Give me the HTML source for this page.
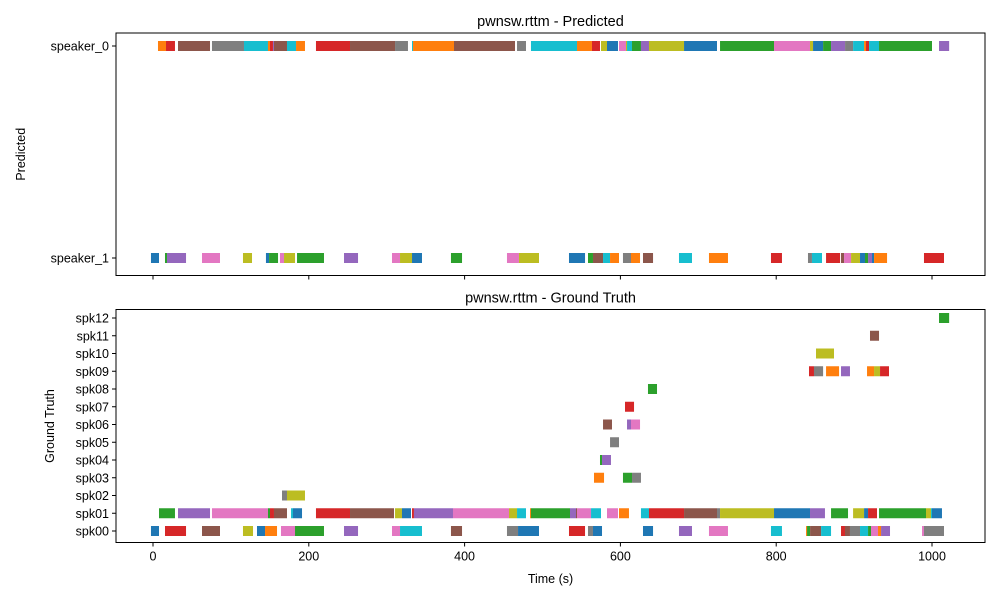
<!DOCTYPE html>
<html><head><meta charset="utf-8"><style>
body{margin:0;background:#fff;}
svg{display:block;font-family:"Liberation Sans","DejaVu Sans",sans-serif;}
</style></head><body>
<svg id="chart" width="1000" height="600"></svg>
<script>
const C={b:'#1f77b4',o:'#ff7f0e',g:'#2ca02c',r:'#d62728',p:'#9467bd',n:'#8c564b',k:'#e377c2',y:'#7f7f7f',l:'#bcbd22',c:'#17becf'};
const predLabels=['speaker_0','speaker_1'];
const predSpeaker0=[[6.4,16.7,'o'],[16.7,28.2,'r'],[32.1,73.2,'n'],[75.7,116.8,'y'],[116.8,147.6,'c'],[147.6,150.2,'o'],[150.2,154,'r'],[154,155.3,'p'],[155.3,172,'n'],[172,183.6,'c'],[183.6,195.1,'o'],[209.2,252.9,'r'],[252.9,310.7,'n'],[310.7,327.3,'y'],[332.5,333.8,'c'],[333.8,386.4,'o'],[386.4,464.7,'n'],[467.3,478.8,'y'],[485.2,544.3,'c'],[544.3,563.5,'o'],[563.5,573.8,'r'],[575.1,582.8,'l'],[582.8,596.9,'b'],[598.2,607.2,'k'],[607.2,608.5,'l'],[608.5,614.9,'c'],[614.9,626.4,'g'],[626.4,636.7,'p'],[636.7,681.7,'l'],[681.7,724,'b'],[727.9,797.2,'g'],[797.2,843.4,'k'],[843.4,847.3,'l'],[847.3,860.2,'b'],[860.2,870.4,'g'],[870.4,888.4,'p'],[888.4,898.7,'y'],[898.7,912.8,'c'],[912.8,915.3,'o'],[915.3,919.2,'r'],[919.2,932,'c'],[932,1000,'g'],[1009,1022,'p']];
const predSpeaker1=[[-2.6,7.7,'b'],[15.4,18,'g'],[18,42.4,'p'],[62.9,86,'k'],[115.5,127.1,'l'],[145,149,'b'],[149,160.5,'g'],[163,168.2,'k'],[168.2,182.3,'l'],[184.9,219.5,'g'],[245.2,263.2,'p'],[306.8,317.1,'k'],[317.1,332.5,'l'],[332.5,345.3,'b'],[382.5,396.7,'g'],[454.4,469.8,'k'],[469.8,495.5,'l'],[534,554.6,'b'],[558.4,564.8,'g'],[564.8,577.7,'n'],[577.7,586.7,'c'],[586.7,598.2,'o'],[603.3,613.6,'y'],[613.6,625.2,'o'],[629,641.9,'n'],[675.2,691.9,'c'],[713.7,738.1,'o'],[793.3,807.4,'r'],[840.8,845.9,'y'],[845.9,858.8,'c'],[864,882,'r'],[883.2,887.1,'n'],[887.1,896.1,'k'],[896.1,907.6,'l'],[907.6,914,'b'],[914,917.9,'g'],[917.9,923,'p'],[923,925.6,'b'],[925.6,942.3,'o'],[989.7,1015.4,'r']];
const gtLabels=['spk00','spk01','spk02','spk03','spk04','spk05','spk06','spk07','spk08','spk09','spk10','spk11','spk12'];
const gtSpk00=[[-2.6,7.7,'b'],[15.4,42.4,'r'],[62.9,86,'n'],[115.5,128.4,'l'],[133.5,143.8,'b'],[143.8,159.2,'o'],[164.3,182.3,'k'],[182.3,219.5,'g'],[245.2,263.2,'p'],[306.8,317.1,'k'],[317.1,345.3,'c'],[382.5,396.7,'n'],[454.4,468.6,'y'],[468.6,495.5,'b'],[534,554.6,'r'],[558.4,564.8,'y'],[564.8,576.4,'b'],[629,641.9,'b'],[675.2,691.9,'p'],[713.7,738.1,'k'],[793.3,807.4,'c'],[838.3,839.6,'o'],[839.6,843.5,'g'],[843.5,857.6,'n'],[857.6,870.4,'c'],[883.2,888.3,'r'],[888.3,894.7,'n'],[894.7,907.6,'y'],[907.6,917.9,'c'],[917.9,921.7,'g'],[921.7,930.7,'k'],[930.7,934.6,'o'],[934.6,946.1,'p'],[987.2,989.7,'k'],[989.7,1015.4,'y']];
const gtSpk01=[[7.7,28.2,'g'],[32.1,73.2,'p'],[75.7,147.6,'k'],[147.6,150.2,'g'],[150.2,155.3,'r'],[155.3,172,'n'],[177.2,179.7,'c'],[179.7,191.3,'b'],[209.2,252.9,'r'],[252.9,309.4,'n'],[310.7,319.6,'l'],[319.6,331.2,'b'],[332.5,335,'r'],[335,385.1,'p'],[385.1,457,'k'],[457,467.3,'l'],[467.3,478.8,'c'],[484,485.2,'o'],[485.2,535.3,'g'],[535.3,543,'p'],[543,544.3,'n'],[544.3,562.3,'k'],[562.3,575.1,'c'],[582.8,596.9,'k'],[598.2,611,'o'],[626.4,636.7,'c'],[636.7,681.7,'r'],[681.7,724,'n'],[724,727.9,'y'],[727.9,797.2,'l'],[797.2,843.4,'b'],[843.4,862.6,'p'],[870.4,892.2,'g'],[898.7,912.8,'l'],[912.8,917.9,'b'],[917.9,929.4,'r'],[932,992.3,'g'],[992.3,998.7,'l'],[998.7,1000,'c'],[1000,1012.8,'b']];
const gtSpk02=[[165.6,172,'y'],[172,195.1,'l']];
const gtSpk03=[[566.1,579,'o'],[603.3,614.9,'g'],[614.9,626.4,'y']];
const gtSpk04=[[573.8,576.4,'g'],[576.4,587.9,'p']];
const gtSpk05=[[586.7,598.2,'y']];
const gtSpk06=[[577.7,589.2,'n'],[608.5,613.6,'p'],[613.6,625.2,'k']];
const gtSpk07=[[605.9,617.5,'r']];
const gtSpk08=[[635.4,647,'g']];
const gtSpk09=[[842.1,848.5,'r'],[848.5,860.2,'y'],[864,880.7,'o'],[883.2,894.7,'p'],[916.6,925.6,'o'],[925.6,933.3,'l'],[933.3,944.8,'r']];
const gtSpk10=[[851.1,874.2,'l']];
const gtSpk11=[[920.4,932,'n']];
const gtSpk12=[[1009,1022,'g']];
const xTicks=[0,200,400,600,800,1000];

const NS='http://www.w3.org/2000/svg';
const svg=document.getElementById('chart');
function el(t,a,txt){const e=document.createElementNS(NS,t);for(const k in a)e.setAttribute(k,a[k]);if(txt!==undefined)e.textContent=txt;svg.appendChild(e);return e;}
const X=s=>153+s*0.779;
const L=116,R=985;
function panel(top,bot,title,ylabel,ylabelX,labels,rows,yFn,showX,pname){
  const t=el('text',{x:(L+R)/2,y:top-7,'text-anchor':'middle','font-size':14.5,fill:'#000'},title);
  
  
  rows.forEach((row,i)=>{
    const y=yFn(i);
    row.forEach(s=>{
      const r=el('rect',{x:X(s[0]),y:y-5,width:Math.max(X(s[1])-X(s[0]),1),height:10,fill:C[s[2]]});
      
      
    });
    el('line',{x1:L-4,x2:L,y1:y,y2:y,stroke:'#000','stroke-width':1});
    const lt=el('text',{x:L-7,y:y+4.5,'text-anchor':'end','font-size':12.5},labels[i]);
    
    
  });
  xTicks.forEach(v=>{
    el('line',{x1:X(v),x2:X(v),y1:bot,y2:bot+4,stroke:'#000','stroke-width':1});
    if(showX){const xt=el('text',{x:X(v),y:bot+18,'text-anchor':'middle','font-size':12.5},String(v));
      
      }
  });
  const f=el('rect',{x:L,y:top,width:R-L,height:bot-top,fill:'none',stroke:'#000','stroke-width':1});
  
  
  const yl=el('text',{x:ylabelX,y:(top+bot)/2,'text-anchor':'middle','font-size':12.5,transform:`rotate(-90 ${ylabelX} ${(top+bot)/2})`},ylabel);
  
  
}
panel(33,275.5,'pwnsw.rttm - Predicted','Predicted',25,predLabels,[predSpeaker0,predSpeaker1],i=>46+i*212,false,'predicted');
const gtRows=[gtSpk00,gtSpk01,gtSpk02,gtSpk03,gtSpk04,gtSpk05,gtSpk06,gtSpk07,gtSpk08,gtSpk09,gtSpk10,gtSpk11,gtSpk12];
panel(309.5,542.5,'pwnsw.rttm - Ground Truth','Ground Truth',54,gtLabels,gtRows,i=>531-i*17.75,true,'ground-truth');
const xt=el('text',{x:(L+R)/2,y:583,'text-anchor':'middle','font-size':12.5},'Time (s)');


</script>
</body></html>
